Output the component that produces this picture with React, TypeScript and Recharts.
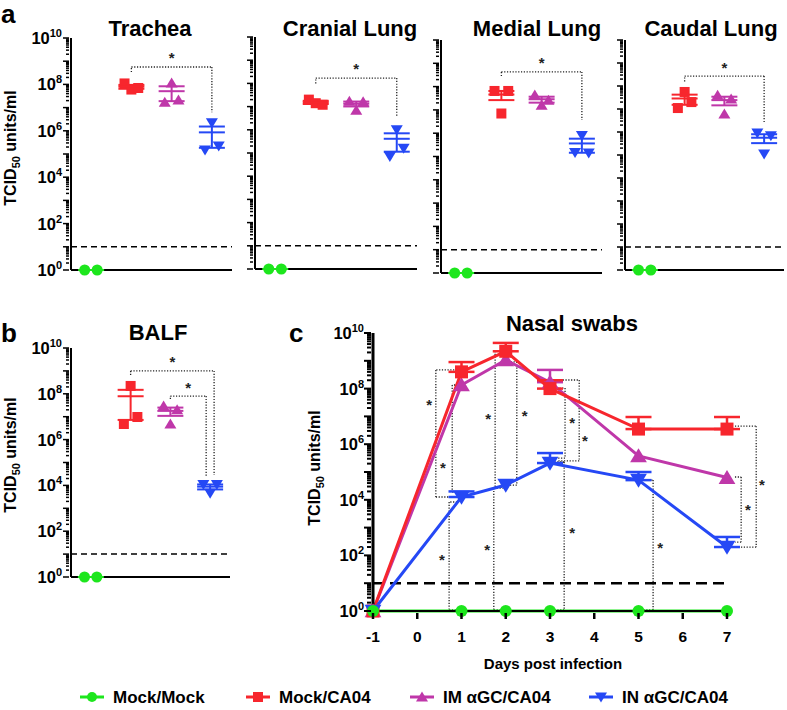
import React from "react";
import {
  ComposedChart,
  Scatter,
  Line,
  XAxis,
  YAxis,
  ErrorBar,
  ReferenceLine,
  ReferenceDot,
} from "recharts";

const FONT = "'Liberation Sans', Arial, Helvetica, sans-serif";

const GROUPS = ["Mock/Mock", "Mock/CA04", "IM αGC/CA04", "IN αGC/CA04"];
const COLORS = ["#1de61d", "#f7262d", "#bf37a9", "#2548f5"];
const SHAPES = ["circle", "square", "up", "down"];
const LOD = 10; // detection limit, TCID50/ml

// per-animal titres, groups in GROUPS order
const trachea = [[1, 1], [1.1e8, 6e7, 7e7], [1.7e7, 1.15e8, 2.1e7], [1.5e5, 2.2e6, 2.2e5]];
const cranialLung = [[1, 1], [2e7, 1.4e7, 1.2e7], [1.7e7, 7e6, 1.6e7], [7e4, 1e6, 1.6e5]];
const medialLung = [[1, 1], [6.5e7, 7e6, 6.5e7], [4.4e7, 1.6e7, 2.6e7], [1.5e5, 8e5, 1.4e5]];
const caudalLung = [[1, 1], [1.1e7, 5.5e7, 2e7], [4e7, 6e6, 2.7e7], [9e5, 1.1e5, 6.8e5]];
const balf = [[1, 1], [4.8e6, 2.2e8, 9.7e6], [2.9e7, 4.8e6, 2e7], [1.1e4, 4.5e3, 1.1e4]];

// significance brackets, corners as [group, log10 titre]
const tracheaBracket = [[1, 8.53], [1, 8.75], [3, 8.75], [3, 6.8]];
const cranialBracket = [[1, 8.0], [1, 8.23], [3, 8.23], [3, 6.6]];
const medialBracket = [[1, 8.45], [1, 8.63], [3, 8.63], [3, 6.57]];
const caudalBracket = [[1, 8.2], [1, 8.43], [3, 8.43], [3, 6.39]];
const balfBracketA = [[1, 8.82], [1, 9.0], [3.1, 9.0], [3.1, 4.45]];
const balfBracketB = [[2, 7.77], [2, 7.9], [2.9, 7.9], [2.9, 4.41]];

// nasal swabs, mean and top of SEM bar
const days = [-1, 1, 2, 3, 5, 7];
const nasalMock = [1, 1, 1, 1, 1, 1];
const nasalMockCA04 = [1, 4e8, 2.2e9, 1e8, 3.5e6, 3.5e6];
const nasalMockCA04Top = [1, 9e8, 4.4e9, 2e8, 9.5e6, 9.5e6];
const nasalIM = [1, 1.35e8, 1.07e9, 1.7e8, 3.8e5, 6.3e4];
const nasalIMTop = [1, 1.35e8, 1.07e9, 4.7e8, 3.8e5, 6.3e4];
const nasalIN = [1, 1.26e4, 3.4e4, 2.1e5, 5.1e4, 2e2];
const nasalINTop = [1, 2e4, 3.4e4, 4.8e5, 1e5, 4.6e2];

// nasal brackets [day, log10 titre] and star marks
const nasalBrackets = [
  [[0.9, 8.67], [0.42, 8.67], [0.42, 4.1], [0.79, 4.1]],
  [[0.92, 8.13], [0.79, 8.13], [0.79, 4.28], [0.92, 4.28]],
  [[0.9, 3.92], [0.72, 3.92], [0.72, 0.04], [0.9, 0.04]],
  [[1.95, 9.35], [1.76, 9.35], [1.76, 4.46], [1.95, 4.46]],
  [[2.05, 8.96], [2.25, 8.96], [2.25, 4.53], [2.05, 4.53]],
  [[1.95, 4.42], [1.73, 4.42], [1.73, 0.04], [1.95, 0.04]],
  [[3.16, 8.31], [3.66, 8.31], [3.66, 5.4], [3.16, 5.4]],
  [[3.15, 8.02], [3.34, 8.02], [3.34, 5.5], [3.15, 5.5]],
  [[3.1, 5.36], [3.32, 5.36], [3.32, 0.04], [3.1, 0.04]],
  [[5.1, 4.71], [5.33, 4.71], [5.33, 0.04], [5.1, 0.04]],
  [[7.18, 6.65], [7.66, 6.65], [7.66, 2.3], [7.18, 2.3]],
  [[7.18, 4.82], [7.32, 4.82], [7.32, 2.48], [7.18, 2.48]],
];
const nasalStars = [
  [0.27, 7.52], [0.58, 5.25], [0.56, 1.94], [1.6, 7.01], [2.43, 7.12], [1.58, 2.3],
  [3.79, 6.22], [3.5, 6.87], [3.5, 2.91], [5.49, 2.37], [7.79, 4.64], [7.47, 3.74],
];

const DECADES = Array.from({ length: 11 }, (_, i) => 10 ** i);
const LOG_TICKS = [
  ...DECADES,
  ...DECADES.slice(0, 10).flatMap((d) => [2, 3, 4, 5, 6, 7, 8, 9].map((m) => m * d)),
];
const DAY_TICKS = [-1, 0, 1, 2, 3, 4, 5, 6, 7];

function Marker({ kind, cx, cy, size, color }: any) {
  if (cx == null || cy == null) return null;
  const h = size / 2;
  if (kind === "circle") return <circle cx={cx} cy={cy} r={h} fill={color} />;
  if (kind === "square")
    return <rect x={cx - h} y={cy - h} width={size} height={size} fill={color} />;
  const t = kind === "up" ? 1 : -1;
  const pts = [
    [cx, cy - t * size * 0.55],
    [cx - size * 0.6, cy + t * size * 0.45],
    [cx + size * 0.6, cy + t * size * 0.45],
  ];
  return <polygon points={pts.map((p) => p.join(",")).join(" ")} fill={color} />;
}

function LogTick(props: any) {
  const { x, y, payload, showLabel, major = 6, minor = 3, sw = 1.5 } = props;
  const e = Math.log10(payload.value);
  const exp = Math.round(e);
  const isMajor = Math.abs(e - exp) < 1e-6;
  const len = isMajor ? major : minor;
  return (
    <g>
      <line x1={x} x2={x - len} y1={y} y2={y} stroke="#000" strokeWidth={sw} />
      {showLabel && isMajor && exp % 2 === 0 && (
        <text
          x={x - 7}
          y={y + 6}
          textAnchor="end"
          fontFamily={FONT}
          fontWeight="bold"
          fontSize={16.5}
          fill="#000"
        >
          10
          <tspan dy={-7} fontSize={11}>
            {exp}
          </tspan>
        </text>
      )}
    </g>
  );
}

function DayTick(props: any) {
  const { x, y, payload } = props;
  return (
    <g>
      <line x1={x} x2={x} y1={y} y2={y + 6} stroke="#000" strokeWidth={2.5} />
      <text x={x} y={y + 29} textAnchor="middle" fontFamily={FONT} fontWeight="bold" fontSize={15.5} fill="#000">
        {payload.value}
      </text>
    </g>
  );
}

function Star(p: any) {
  return (
    <text x={p.cx} y={p.cy + 8} textAnchor="middle" fontFamily={FONT} fontWeight="bold" fontSize={15} fill="#222">
      *
    </text>
  );
}

function bracketLines(points: number[][], key: string) {
  return points.slice(1).map((pt, i) => (
    <ReferenceLine
      key={`${key}-${i}`}
      segment={[
        { x: points[i][0], y: 10 ** points[i][1] },
        { x: pt[0], y: 10 ** pt[1] },
      ]}
      stroke="#222"
      strokeWidth={1.3}
      strokeDasharray="1.2 1.6"
      ifOverflow="visible"
    />
  ));
}

const jitter = (n: number) => (n === 2 ? [-0.16, 0.15] : [-0.17, 0, 0.17]);

function groupStats(vals: number[]) {
  const n = vals.length;
  const mean = vals.reduce((a, b) => a + b, 0) / n;
  const sd = Math.sqrt(vals.reduce((a, v) => a + (v - mean) ** 2, 0) / (n - 1));
  const sem = sd / Math.sqrt(n);
  return { mean, sem };
}

const organPanels = [
  { title: "Trachea", sets: trachea, brackets: [tracheaBracket], axisX: 71, top: 38, bottom: 270, right: 232, labels: true },
  { title: "Cranial Lung", sets: cranialLung, brackets: [cranialBracket], axisX: 255, top: 37, bottom: 269, right: 417, labels: false },
  { title: "Medial Lung", sets: medialLung, brackets: [medialBracket], axisX: 441, top: 40, bottom: 273, right: 602, labels: false },
  { title: "Caudal Lung", sets: caudalLung, brackets: [caudalBracket], axisX: 625, top: 40, bottom: 270, right: 784, labels: false },
  { title: "BALF", sets: balf, brackets: [balfBracketA, balfBracketB], axisX: 71, top: 348, bottom: 577, right: 230, labels: true },
];

function DotPlot({ spec }: any) {
  const { sets, brackets, axisX, top, bottom, right, labels } = spec;
  const mt = 28;
  const mb = 7;
  const xh = 1;
  const yw = 62;
  const width = yw + (right - axisX) + 3;
  const height = mt + (bottom - top) + xh + mb;
  return (
    <div style={{ position: "absolute", left: axisX - yw, top: top - mt }}>
      <ComposedChart width={width} height={height} margin={{ top: mt, right: 3, bottom: mb, left: 0 }}>
        <XAxis
          type="number"
          dataKey="x"
          domain={[-0.5, 3.5]}
          tick={false}
          tickLine={false}
          height={xh}
          axisLine={{ stroke: "#000", strokeWidth: 2 }}
        />
        <YAxis
          type="number"
          dataKey="y"
          scale="log"
          domain={[1, 1e10]}
          ticks={LOG_TICKS}
          interval={0}
          width={yw}
          tickSize={0}
          tickLine={false}
          axisLine={{ stroke: "#000", strokeWidth: 2 }}
          tick={(p: any) => <LogTick {...p} showLabel={labels} />}
        />
        <ReferenceLine y={LOD} stroke="#000" strokeWidth={1.5} strokeDasharray="6 4" />
        {brackets.map((b: number[][], k: number) => bracketLines(b, `b${k}`))}
        {brackets.map((b: number[][], k: number) => (
          <ReferenceDot
            key={`s${k}`}
            x={(b[1][0] + b[2][0]) / 2}
            y={10 ** (b[1][1] + 0.5)}
            ifOverflow="visible"
            shape={Star}
          />
        ))}
        {sets.map((vals: number[], g: number) => {
          const off = jitter(vals.length);
          return (
            <Scatter
              key={`p${g}`}
              name={GROUPS[g]}
              data={vals.map((v, i) => ({ x: g + off[i], y: v }))}
              isAnimationActive={false}
              shape={(p: any) => (
                <Marker kind={SHAPES[g]} cx={p.cx} cy={p.cy} size={g === 0 ? 11 : 10} color={COLORS[g]} />
              )}
            />
          );
        })}
        {sets.map((vals: number[], g: number) => {
          const { mean, sem } = groupStats(vals);
          const err = sem > 0 ? [Math.min(sem, mean * 0.95), sem] : null;
          return (
            <Scatter
              key={`m${g}`}
              data={[{ x: g, y: mean, err }]}
              isAnimationActive={false}
              shape={(p: any) => (
                <line x1={p.cx - 13} x2={p.cx + 13} y1={p.cy} y2={p.cy} stroke={COLORS[g]} strokeWidth={2} />
              )}
            >
              <ErrorBar dataKey="err" direction="y" width={13} stroke={COLORS[g]} strokeWidth={2} />
            </Scatter>
          );
        })}
      </ComposedChart>
    </div>
  );
}

const upErr = (mean: number[], topv: number[]) =>
  mean.map((m, i) => (topv[i] > m ? [0, topv[i] - m] : null));

const nasalRows = days.map((d, i) => ({
  day: d,
  mock: nasalMock[i],
  mockCA04: nasalMockCA04[i],
  mockCA04Err: upErr(nasalMockCA04, nasalMockCA04Top)[i],
  im: nasalIM[i],
  imErr: upErr(nasalIM, nasalIMTop)[i],
  inn: nasalIN[i],
  innErr: upErr(nasalIN, nasalINTop)[i],
}));

const nasalSeries = [
  { key: "im", g: 2, size: 14 },
  { key: "mockCA04", g: 1, size: 13 },
  { key: "inn", g: 3, size: 14 },
  { key: "mock", g: 0, size: 12 },
];

function NasalChart() {
  const axisX = 373;
  const top = 333;
  const bottom = 611;
  const right = 727;
  const yw = 62;
  const mt = 15;
  const xh = 35;
  const mr = 57;
  return (
    <div style={{ position: "absolute", left: axisX - yw, top: top - mt }}>
      <ComposedChart
        width={yw + (right - axisX) + mr}
        height={mt + (bottom - top) + xh}
        data={nasalRows}
        margin={{ top: mt, right: mr, bottom: 0, left: 0 }}
      >
        <XAxis
          type="number"
          dataKey="day"
          domain={[-1, 7]}
          ticks={DAY_TICKS}
          interval={0}
          tickSize={0}
          tickLine={false}
          height={xh}
          axisLine={{ stroke: "#000", strokeWidth: 2 }}
          tick={DayTick}
        />
        <YAxis
          type="number"
          scale="log"
          domain={[1, 1e10]}
          ticks={LOG_TICKS}
          interval={0}
          width={yw}
          tickSize={0}
          tickLine={false}
          axisLine={{ stroke: "#000", strokeWidth: 3 }}
          tick={(p: any) => <LogTick {...p} showLabel major={7} minor={4} sw={2} />}
        />
        <ReferenceLine y={LOD} stroke="#000" strokeWidth={2.5} strokeDasharray="11 6" />
        {nasalBrackets.map((b, k) => bracketLines(b, `n${k}`))}
        {nasalStars.map((s, k) => (
          <ReferenceDot key={`ns${k}`} x={s[0]} y={10 ** s[1]} ifOverflow="visible" shape={Star} />
        ))}
        {nasalSeries.map((s) => (
          <Line
            key={s.key}
            name={GROUPS[s.g]}
            dataKey={s.key}
            type="linear"
            stroke={COLORS[s.g]}
            strokeWidth={3}
            isAnimationActive={false}
            activeDot={false}
            dot={(p: any) => (
              <Marker key={`${s.key}${p.index}`} kind={SHAPES[s.g]} cx={p.cx} cy={p.cy} size={s.size} color={COLORS[s.g]} />
            )}
          >
            {s.g !== 0 && (
              <ErrorBar dataKey={`${s.key}Err`} direction="y" width={13} stroke={COLORS[s.g]} strokeWidth={2.5} />
            )}
          </Line>
        ))}
      </ComposedChart>
    </div>
  );
}

function YLabel({ x, y }: { x: number; y: number }) {
  return (
    <text transform={`translate(${x},${y}) rotate(-90)`} textAnchor="middle" fontSize={16}>
      TCID
      <tspan fontSize={11} dy={4}>
        50
      </tspan>
      <tspan dy={-4}> units/ml</tspan>
    </text>
  );
}

const legendX = [92, 258, 422, 601];

export default function App() {
  return (
    <div style={{ position: "absolute", left: 0, top: 0, width: 787, height: 710, background: "#fff", fontFamily: FONT }}>
      {organPanels.map((spec) => (
        <DotPlot key={spec.title} spec={spec} />
      ))}
      <NasalChart />
      <svg
        width={787}
        height={710}
        style={{ position: "absolute", left: 0, top: 0, pointerEvents: "none" }}
        fontFamily={FONT}
        fontWeight="bold"
        fill="#000"
      >
        <text x={1} y={23} fontSize={26}>a</text>
        <text x={1} y={342} fontSize={26}>b</text>
        <text x={289} y={342} fontSize={26}>c</text>
        <text x={150} y={36} fontSize={22} textAnchor="middle">Trachea</text>
        <text x={350} y={36} fontSize={22} textAnchor="middle">Cranial Lung</text>
        <text x={537} y={36} fontSize={22} textAnchor="middle">Medial Lung</text>
        <text x={711} y={36} fontSize={22} textAnchor="middle">Caudal Lung</text>
        <text x={158} y={340} fontSize={22} textAnchor="middle">BALF</text>
        <text x={572} y={331} fontSize={22} textAnchor="middle">Nasal swabs</text>
        <YLabel x={16} y={148} />
        <YLabel x={16} y={455} />
        <YLabel x={320} y={468} />
        <text x={553} y={669} fontSize={15} textAnchor="middle">Days post infection</text>
        {GROUPS.map((name, g) => (
          <g key={name}>
            <line x1={legendX[g] - 12} x2={legendX[g] + 12} y1={697} y2={697} stroke={COLORS[g]} strokeWidth={3} />
            <Marker kind={SHAPES[g]} cx={legendX[g]} cy={697} size={10} color={COLORS[g]} />
            <text x={legendX[g] + 21} y={703} fontSize={17}>{name}</text>
          </g>
        ))}
      </svg>
    </div>
  );
}
